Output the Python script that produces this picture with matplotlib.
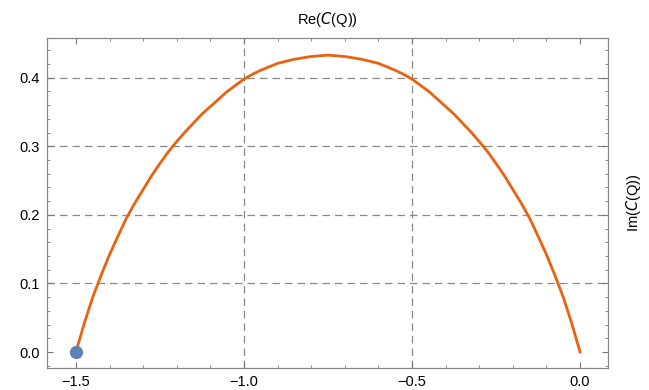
import matplotlib
matplotlib.use("Agg")
import matplotlib.pyplot as plt
from matplotlib.ticker import MultipleLocator

# values: Re(C(Q)) and Im(C(Q)) along the arc
re_c = [-1.5, -1.475, -1.45, -1.425, -1.4, -1.375, -1.35, -1.325, -1.3, -1.275,
        -1.25, -1.225, -1.2, -1.175, -1.15, -1.125, -1.1, -1.075, -1.05, -1.025,
        -1.0, -0.975, -0.95, -0.925, -0.9, -0.875, -0.85, -0.825, -0.8, -0.775,
        -0.75,
        -0.725, -0.7, -0.675, -0.65, -0.625, -0.6, -0.575, -0.55, -0.525, -0.5,
        -0.475, -0.45, -0.425, -0.4, -0.375, -0.35, -0.325, -0.3, -0.275, -0.25,
        -0.225, -0.2, -0.175, -0.15, -0.125, -0.1, -0.075, -0.05, -0.025, 0.0]
im_c = [0.0, 0.042, 0.080, 0.112, 0.142, 0.169, 0.195, 0.217, 0.237, 0.257,
        0.275, 0.292, 0.307, 0.321, 0.334, 0.347, 0.358, 0.369, 0.380, 0.389,
        0.398, 0.405, 0.411, 0.416, 0.421, 0.424, 0.427, 0.429, 0.431, 0.432,
        0.433,
        0.432, 0.431, 0.429, 0.427, 0.424, 0.421, 0.416, 0.411, 0.405, 0.398,
        0.389, 0.380, 0.369, 0.358, 0.347, 0.334, 0.321, 0.307, 0.292, 0.275,
        0.257, 0.237, 0.217, 0.195, 0.169, 0.142, 0.112, 0.080, 0.042, 0.0]

start_point = (-1.5, 0.0)
grid_x = [-1.0, -0.5]
grid_y = [0.1, 0.2, 0.3, 0.4]
x_ticks = [-1.5, -1.0, -0.5, 0.0]
y_ticks = [0.0, 0.1, 0.2, 0.3, 0.4]

plt.rcParams["font.family"] = ["Liberation Sans", "DejaVu Sans"]

fig = plt.figure(figsize=(6.49, 3.9), dpi=100)
ax = fig.add_axes([47 / 649, 1 - 368 / 390, 561 / 649, 330 / 390])

for gx in grid_x:
    ax.axvline(gx, color="#888888", lw=0.9, ls=(0, (6, 4)), zorder=0)
for gy in grid_y:
    ax.axhline(gy, color="#888888", lw=0.9, ls=(0, (6, 4)), zorder=0)

ax.plot(re_c, im_c, color="#E8620F", lw=2.0, zorder=2, solid_joinstyle="round")
ax.plot(start_point[0], start_point[1], "o", color="#5E81B5", ms=8.5, zorder=3)

ax.set_xlim(-1.586, 0.083)
ax.set_ylim(-0.0233, 0.458)
ax.set_xticks(x_ticks)
ax.set_yticks(y_ticks)
ax.set_xticklabels(["\u22121.5", "\u22121.0", "\u22120.5", "0.0"])
ax.set_yticklabels([f"{v:.1f}" for v in y_ticks])
ax.xaxis.set_minor_locator(MultipleLocator(0.1))
ax.yaxis.set_minor_locator(MultipleLocator(0.02))

ax.tick_params(which="both", direction="in", top=True, right=True,
               color="#777777", labelsize=10.5, labelcolor="black")
ax.tick_params(which="major", length=4.5, width=0.8, pad=5)
ax.tick_params(which="minor", length=2.5, width=0.6)
for s in ax.spines.values():
    s.set_color("#888888")
    s.set_linewidth(0.9)

ax.set_title(r"Re($\mathit{C}$(Q))", fontsize=10.5, pad=10)
ax.text(1.045, 0.5, r"Im($\mathit{C}$(Q))", transform=ax.transAxes,
        rotation=90, va="center", ha="center", fontsize=10.5)

fig.savefig("out.png", dpi=100)
